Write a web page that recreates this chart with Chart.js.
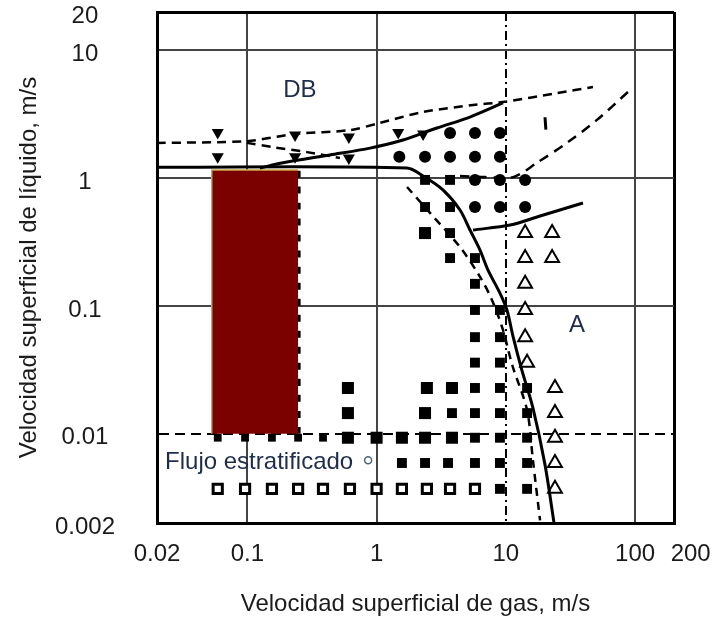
<!DOCTYPE html>
<html>
<head>
<meta charset="utf-8">
<script src="https://cdn.jsdelivr.net/npm/chart.js@4.4.1/dist/chart.umd.min.js"></script>
<style>
html, body { margin: 0; padding: 0; background: #fff; }
</style>
</head>
<body>
<canvas id="myChart" width="713" height="620"></canvas>
<script>
// axes
var xTicks = [0.02, 0.1, 1, 10, 100, 200];
var xTickLabels = ['0.02', '0.1', '1', '10', '100', '     200'];
var yTicks = [0.002, 0.01, 0.1, 1, 10, 20];
var yTickLabels = ['0.002', '0.01', '0.1', '1', '10', '20'];
var xGrid = [0.1, 1, 10, 100];
var yGrid = [0.01, 0.1, 1, 10];

// regime boundaries [gas, liquid]
var boundaryMain = [[0.02, 1.22], [1.72, 1.20], [2.29, 1.04], [3.26, 0.81], [4.42, 0.564], [5.28, 0.393], [6.31, 0.274], [7.28, 0.191], [9.0, 0.126], [10.2, 0.093], [11.4, 0.057], [13.3, 0.0315], [16.2, 0.0159], [20.1, 0.0057], [23.6, 0.002]];
var boundaryUpper = [[0.125, 1.20], [0.189, 1.32], [0.435, 1.52], [0.89, 1.72], [1.60, 1.99], [2.93, 2.47], [5.28, 3.01], [9.5, 3.88]];
var boundaryShort = [[5.57, 0.393], [10.8, 0.43], [18.4, 0.506], [39.5, 0.64]];
var dashUpper = [[0.02, 1.89], [0.099, 1.95], [0.234, 2.22], [0.622, 2.38], [1.06, 2.71], [2.29, 3.30], [5.57, 3.74], [9.5, 3.95], [24.9, 4.64], [47.2, 5.18]];
var dashLower = [[0.099, 1.89], [0.158, 1.75], [0.29, 1.60], [0.52, 1.44]];
var dashDiag = [[88, 4.73], [50.7, 2.86], [29.7, 1.89], [17.4, 1.32], [11.4, 1.02], [6.9, 1.02], [4.42, 1.04]];
var dashCurve = [[1.72, 0.853], [2.59, 0.535], [4.42, 0.289], [6.31, 0.169], [7.82, 0.111], [9.5, 0.0649], [11.2, 0.0345], [14.6, 0.0153], [16.2, 0.0062], [18.4, 0.0021]];
var tMark = [[20.1, 3.0], [20.4, 2.4]];

// shaded range
var rectGas = [0.053, 0.247];
var rectLiq = [0.01, 1.16];

// observations
var dots = [[3.7, 2.26], [5.77, 2.26], [9.0, 2.26], [1.5, 1.47], [2.37, 1.47], [3.7, 1.47], [5.77, 1.47], [9.0, 1.47], [5.77, 0.97], [9.0, 0.97], [14.1, 0.97], [5.77, 0.595], [9.0, 0.595], [14.1, 0.595]];
var downTri = [[0.059, 2.28], [0.059, 1.47], [0.234, 2.18], [0.234, 1.47], [0.61, 2.10], [0.61, 1.44], [1.47, 2.28], [2.29, 2.22]];
var squares = [[2.37, 0.97], [3.7, 0.97], [2.37, 0.595], [3.7, 0.595], [3.7, 0.372], [3.7, 0.237], [5.77, 0.237], [5.77, 0.149], [5.77, 0.093], [9.0, 0.093], [5.77, 0.057], [9.0, 0.057], [5.77, 0.036], [9.0, 0.036], [5.77, 0.0228], [9.0, 0.0228], [14.6, 0.0228], [3.83, 0.0145], [5.77, 0.0145], [9.0, 0.0145], [14.6, 0.0145], [5.77, 0.0093], [9.0, 0.0093], [14.6, 0.0093], [1.57, 0.0059], [2.37, 0.0059], [3.57, 0.0059], [5.77, 0.0059], [9.0, 0.0059], [14.6, 0.0059], [9.0, 0.0037], [14.6, 0.0037]];
var bigSquares = [[2.37, 0.372], [0.60, 0.0228], [2.45, 0.0228], [3.83, 0.0228], [0.60, 0.0145], [2.37, 0.0145], [0.60, 0.0093], [1.0, 0.0093], [1.57, 0.0093], [2.37, 0.0093], [3.83, 0.0093]];
var smallSquares = [[0.059, 0.0093], [0.096, 0.0093], [0.155, 0.0093], [0.247, 0.0093], [0.385, 0.0093]];
var openTri = [[14.1, 0.372], [22.8, 0.372], [14.1, 0.237], [22.8, 0.237], [14.1, 0.149], [14.1, 0.093], [14.1, 0.057], [14.6, 0.036], [24, 0.0228], [24, 0.0145], [24, 0.0093], [24, 0.0059], [24, 0.0037]];
var openSquares = [[0.059, 0.0037], [0.096, 0.0037], [0.155, 0.0037], [0.247, 0.0037], [0.385, 0.0037], [0.622, 0.0037], [1.0, 0.0037], [1.57, 0.0037], [2.45, 0.0037], [3.7, 0.0037], [5.77, 0.0037]];
var smallCircle = [[0.86, 0.0062]];

// region labels
var labelTexts = ['DB', 'A', 'Flujo estratificado'];
var labelGas = [0.255, 35.6, 0.0231];
var labelLiq = [4.9, 0.071, 0.006];

var FONT = '"Liberation Sans", Arial, sans-serif';

function pts(arr) {
    return arr.map(function (p) { return {x: p[0], y: p[1]}; });
}

function lineSet(arr, width, dash, order) {
    return {
        data: pts(arr), borderColor: '#000', borderWidth: width, borderDash: dash,
        pointRadius: 0, fill: false, tension: 0.3, order: order || 0
    };
}

function markSet(arr, style, radius, bg, bw, rot, order) {
    return {
        data: pts(arr), showLine: false, pointStyle: style, pointRadius: radius,
        pointBackgroundColor: bg, pointBorderColor: '#000', pointBorderWidth: bw,
        pointRotation: rot || 0, order: order || 0
    };
}

var rectPoly = [[rectGas[0], rectLiq[0]], [rectGas[0], rectLiq[1]], [rectGas[1], rectLiq[1]]];

var textPlugin = {
    id: 'regionText',
    afterDatasetsDraw: function (chart) {
        var ctx = chart.ctx, xs = chart.scales.x, ys = chart.scales.y;
        ctx.save();
        ctx.font = '24px ' + FONT;
        ctx.fillStyle = '#1e2d4c';
        ctx.textBaseline = 'middle';
        for (var i = 0; i < labelTexts.length; i++) {
            ctx.textAlign = i < 2 ? 'center' : 'left';
            ctx.fillText(labelTexts[i], xs.getPixelForValue(labelGas[i]), ys.getPixelForValue(labelLiq[i]));
        }
        ctx.restore();
    }
};

// grid: decades dark grey, plot edges black, one dashed line per axis
function gridColor(list) {
    return function (c) {
        var v = c.tick.value;
        if (v === list.edge[0] || v === list.edge[1] || v === list.dashed) return '#000';
        return list.lines.indexOf(v) >= 0 ? '#444' : 'rgba(0,0,0,0)';
    };
}
function gridWidth(list) {
    return function (c) {
        var v = c.tick.value;
        return (v === list.edge[0] || v === list.edge[1]) ? 3 : 2;
    };
}
function gridDash(value, dash) {
    return function (c) {
        return (c.tick && c.tick.value === value) ? dash : [];
    };
}
var xg = {edge: [0.02, 200], lines: xGrid, dashed: 10};
var yg = {edge: [0.002, 20], lines: yGrid, dashed: 0.01};

var ctx = document.getElementById('myChart').getContext('2d');
var myChart = new Chart(ctx, {
    type: 'line',
    data: {
        datasets: [
            lineSet(boundaryMain, 3, []),
            lineSet(boundaryUpper, 3, []),
            lineSet(boundaryShort, 3, []),
            lineSet(dashUpper, 2.5, [9, 6]),
            lineSet(dashLower, 2.5, [9, 6]),
            lineSet(dashDiag, 2.5, [10, 7]),
            lineSet(dashCurve, 2.5, [8, 6]),
            lineSet(tMark, 3, []),
            markSet(dots, 'circle', 6, '#000', 0),
            markSet(downTri, 'triangle', 7, '#000', 0, 180),
            markSet(squares, 'rect', 7, '#000', 0),
            markSet(bigSquares, 'rect', 8.5, '#000', 0),
            markSet(openTri, 'triangle', 8, '#fff', 2),
            markSet(openSquares, 'rect', 6.5, '#fff', 3),
            {
                data: pts(smallCircle), showLine: false, pointStyle: 'circle', pointRadius: 3.5,
                pointBackgroundColor: '#fff', pointBorderColor: '#4d6680', pointBorderWidth: 1.5
            },
            {
                data: pts(rectPoly), borderColor: '#c9a94a', borderWidth: 1.5, pointRadius: 0,
                backgroundColor: '#7b0000', fill: {value: rectLiq[0]}, tension: 0, order: 5
            },
            lineSet([[rectGas[1], rectLiq[0]], [rectGas[1], rectLiq[1]]], 5, [7, 9], 10),
            markSet(smallSquares, 'rect', 5.5, '#000', 0, 0, 10)
        ]
    },
    options: {
        responsive: false,
        animation: false,
        devicePixelRatio: 1,
        layout: { padding: { left: 0, right: 39, top: 12, bottom: 0 } },
        plugins: { legend: { display: false }, tooltip: { enabled: false } },
        scales: {
            x: {
                type: 'logarithmic', min: 0.02, max: 200,
                afterBuildTicks: function (s) { s.ticks = xTicks.map(function (v) { return {value: v}; }); },
                afterFit: function (s) { s.height = 97; s.paddingLeft = 0; s.paddingRight = 0; },
                ticks: {
                    callback: function (v, i) { return xTickLabels[i]; },
                    font: { family: FONT, size: 24 }, color: '#1b1b1b', padding: 17,
                    maxRotation: 0, autoSkip: false
                },
                grid: { color: gridColor(xg), lineWidth: gridWidth(xg), drawTicks: false },
                border: { display: true, color: '#000', width: 3, dash: gridDash(10, [9, 4, 2, 4]) },
                title: {
                    display: true, text: 'Velocidad superficial de gas, m/s',
                    font: { family: FONT, size: 24 }, color: '#1b1b1b', padding: { bottom: 1 }
                }
            },
            y: {
                type: 'logarithmic', min: 0.002, max: 20,
                afterBuildTicks: function (s) { s.ticks = yTicks.map(function (v) { return {value: v}; }); },
                afterFit: function (s) { s.width = 157; s.paddingTop = 0; s.paddingBottom = 0; },
                ticks: {
                    callback: function (v, i) { return yTickLabels[i]; },
                    font: { family: FONT, size: 24 }, color: '#1b1b1b', padding: 42,
                    crossAlign: 'center', autoSkip: false, labelOffset: 4
                },
                grid: { color: gridColor(yg), lineWidth: gridWidth(yg), drawTicks: false },
                border: { display: true, color: '#000', width: 3, dash: gridDash(0.01, [10, 6]) },
                title: {
                    display: true, text: 'Velocidad superficial de líquido, m/s',
                    font: { family: FONT, size: 24 }, color: '#1b1b1b', padding: { top: 15 }
                }
            }
        }
    },
    plugins: [textPlugin]
});
</script>
</body>
</html>
